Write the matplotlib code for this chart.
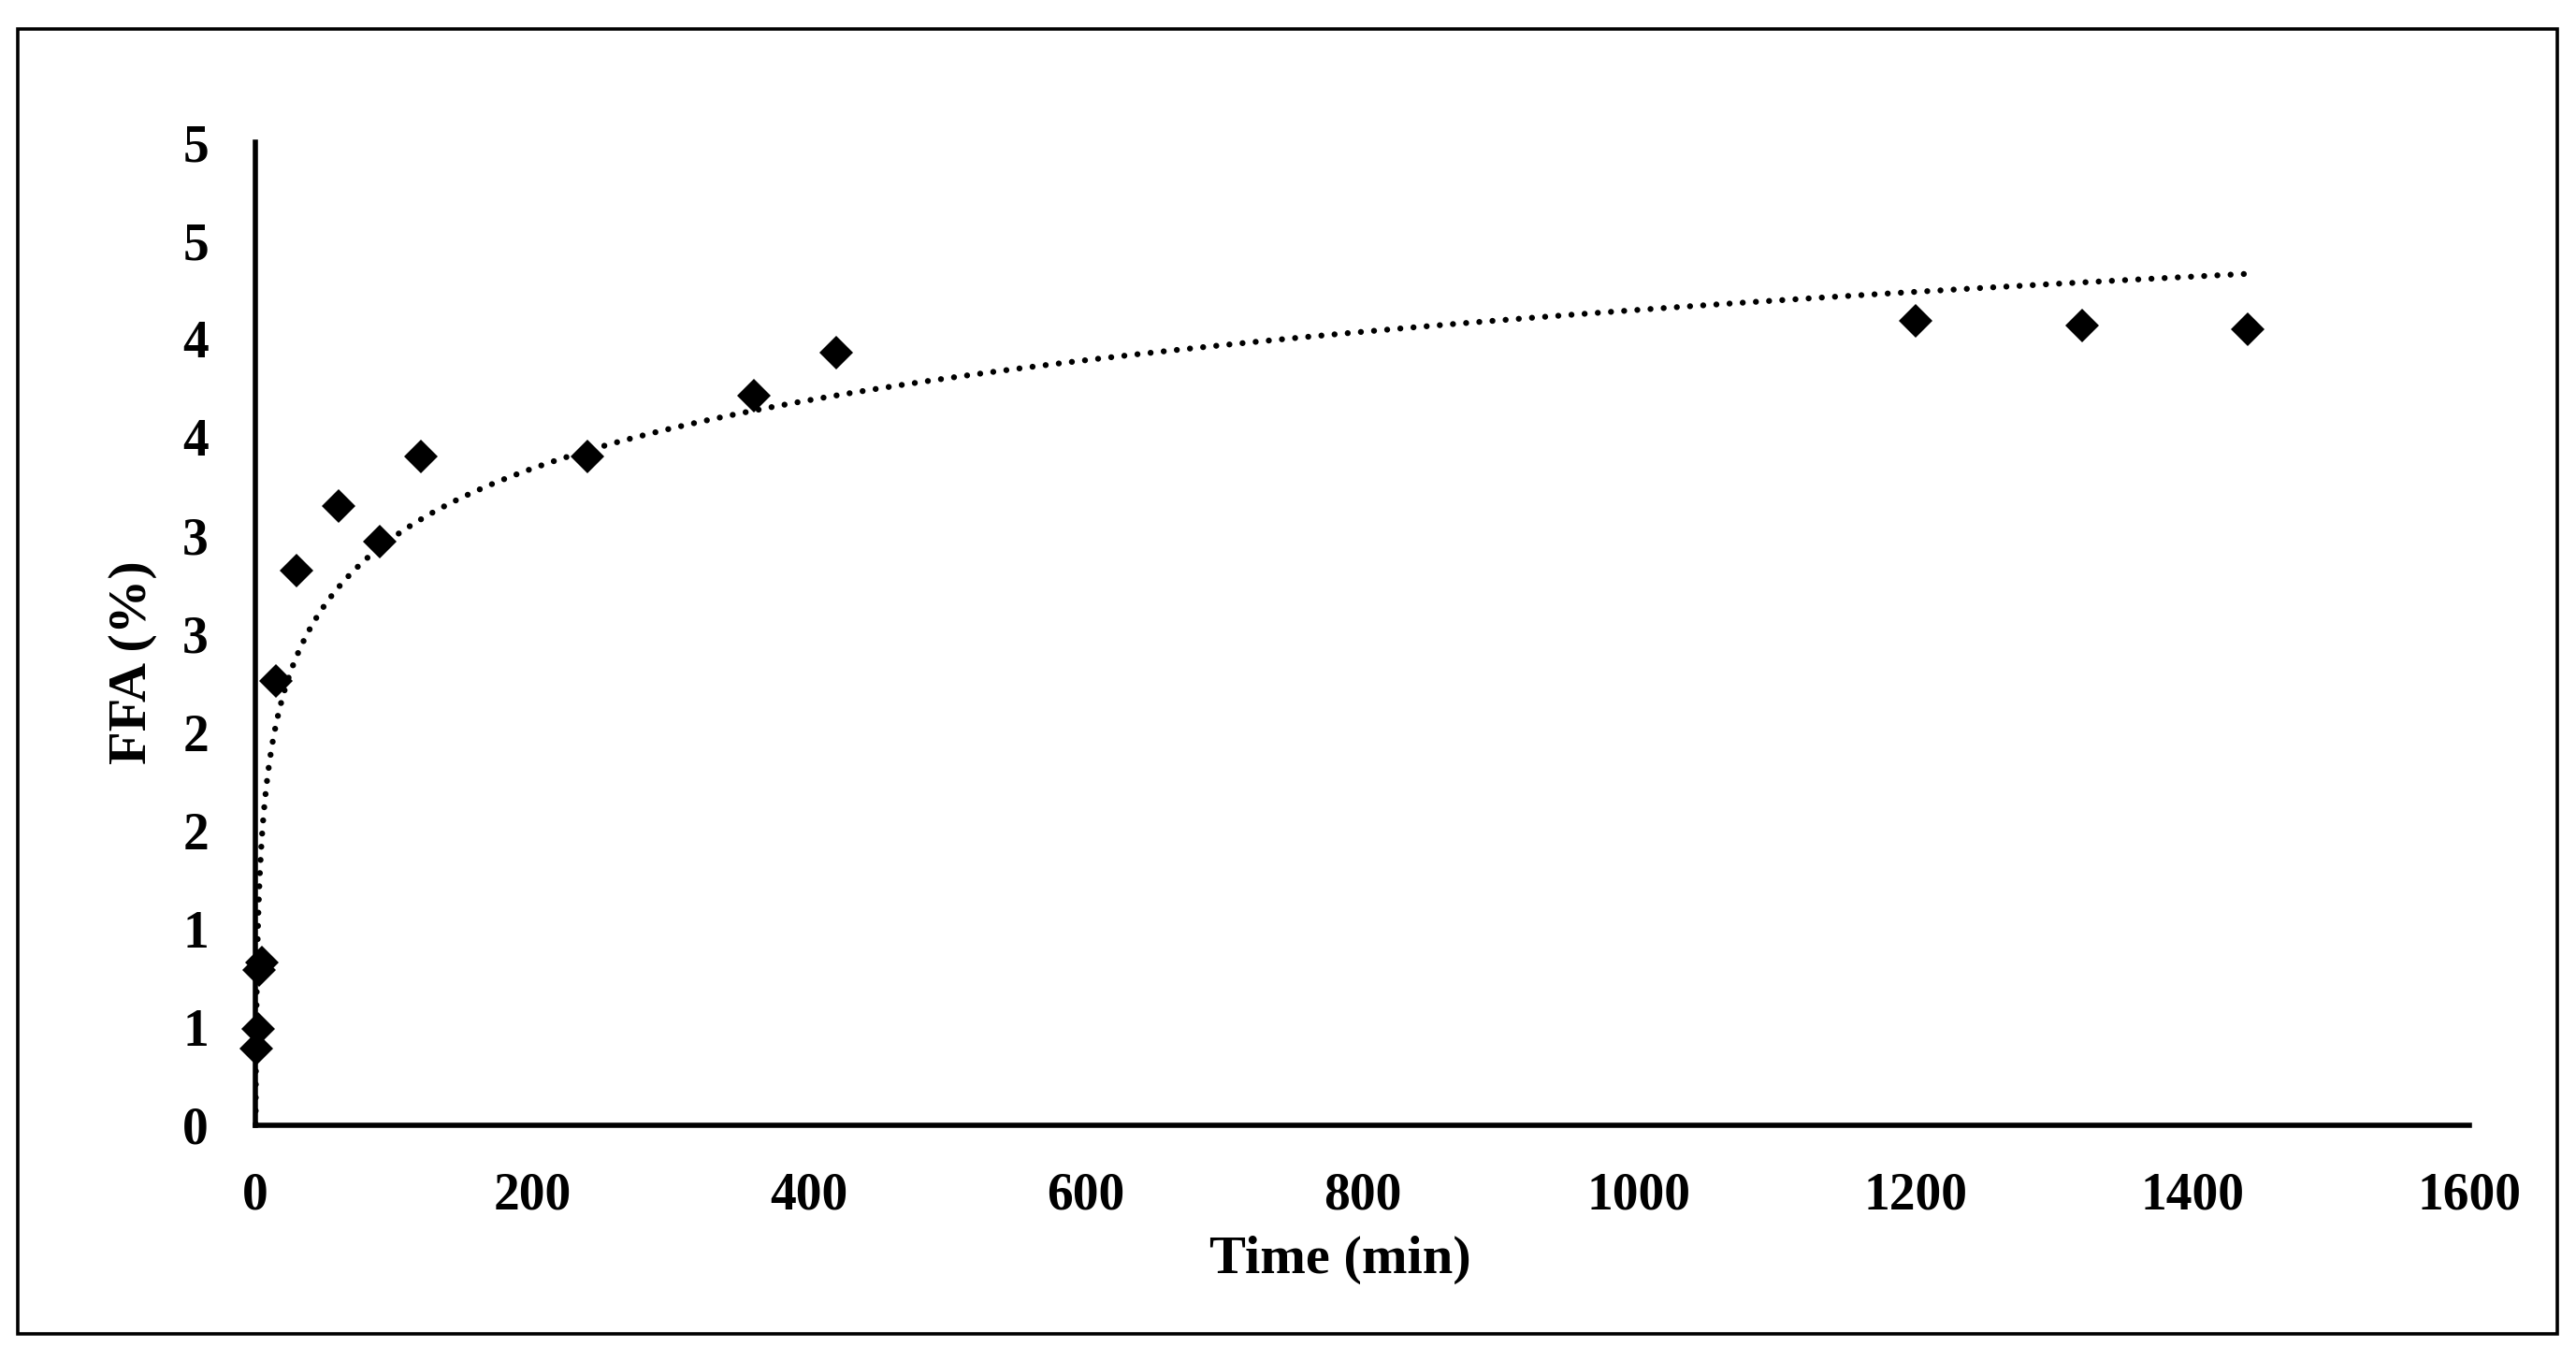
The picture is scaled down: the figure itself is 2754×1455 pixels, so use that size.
import numpy as np
import matplotlib
matplotlib.use('Agg')
import matplotlib.pyplot as plt
from matplotlib.patches import Rectangle

plt.rcParams['font.family'] = ['Liberation Serif', 'DejaVu Serif']
plt.rcParams['font.weight'] = 'bold'

time_min = [1, 2, 3, 5, 15, 30, 60, 90, 120, 240, 360, 420, 1200, 1320, 1440]
ffa_pct = [0.39, 0.49, 0.79, 0.83, 2.26, 2.82, 3.15, 2.97, 3.40, 3.40, 3.71, 3.93, 4.09, 4.07, 4.05]

# logarithmic trendline y = a*ln(t) + b, as drawn
trend_a = 0.502
trend_b = 0.68

x_ticks = [0, 200, 400, 600, 800, 1000, 1200, 1400, 1600]
y_ticks = [0, 0.5, 1.0, 1.5, 2.0, 2.5, 3.0, 3.5, 4.0, 4.5, 5.0]
y_tick_labels = ['0', '1', '1', '2', '2', '3', '3', '4', '4', '5', '5']

fig = plt.figure(figsize=(27.54, 14.55), dpi=100)
ax = fig.add_axes([0.0991, 0.1732, 0.8595, 0.7223])

t_fit = np.geomspace(0.2, 1440, 600)
ax.plot(t_fit, trend_a * np.log(t_fit) + trend_b, color='black', lw=4.6,
        linestyle=(0, (0.01, 2.2)), dash_capstyle='round', zorder=2)
ax.plot(time_min, ffa_pct, linestyle='none', marker='D', ms=18.5, mew=0,
        color='black', zorder=3, clip_on=False)

ax.set_xlim(0, 1600)
ax.set_ylim(0, 5)
ax.set_xticks(x_ticks)
ax.set_yticks(y_ticks)
ax.set_yticklabels(y_tick_labels)
ax.tick_params(length=0, pad=36, labelsize=40)
for lab in ax.get_xticklabels() + ax.get_yticklabels():
    lab.set_fontweight('bold')

for s in ['top', 'right']:
    ax.spines[s].set_visible(False)
for s in ['left', 'bottom']:
    ax.spines[s].set_linewidth(4)
    ax.spines[s].set_color('black')

fig.text(0.5203, 0.0742, 'Time (min)', fontsize=42, fontweight='bold',
         ha='center', va='center')
fig.text(0.0515, 0.5134, 'FFA (%)', fontsize=42, fontweight='bold',
         ha='center', va='center', rotation=90)

# chart-area border
fig.patches.append(Rectangle((0.0069, 0.0199), 0.9858, 0.9588, transform=fig.transFigure,
                             fill=False, edgecolor='black', lw=2.6))

fig.savefig('out.png', dpi=100)
